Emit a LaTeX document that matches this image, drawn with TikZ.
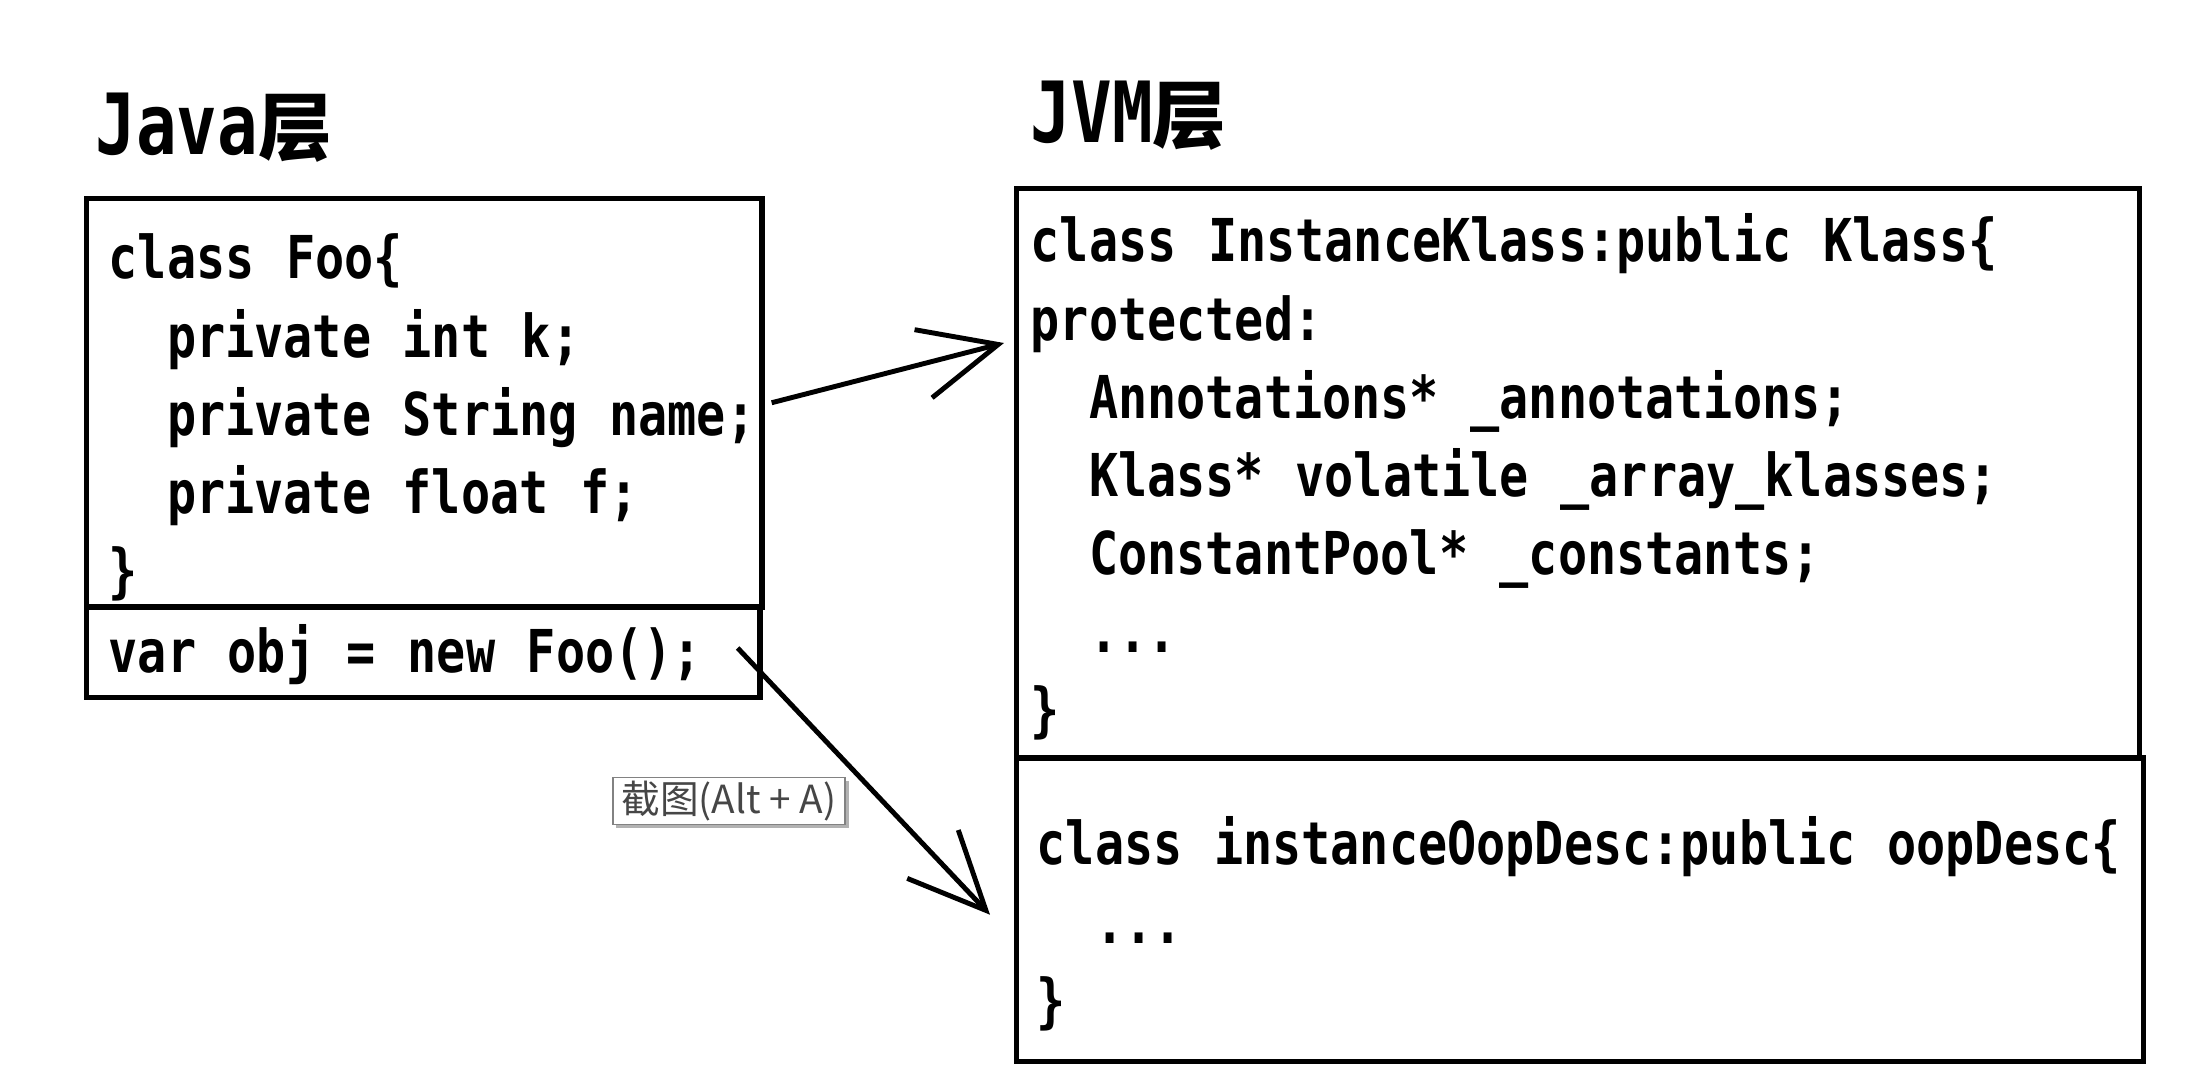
\documentclass[tikz,border=0pt]{standalone}
\usepackage{fontspec}
\usepackage{xcolor}
\usetikzlibrary{arrows.meta,positioning,calc,shadows}
\newfontfamily\codefont[FakeStretch=0.82]{DejaVu Sans Mono}
\newfontfamily\titlefont[FakeStretch=0.80]{DejaVu Sans Mono}
\newfontfamily\cjkfont{Noto Sans CJK SC}
\newcommand{\codeindent}{\phantom{xx}}
\newcommand{\widespace}{\spaceskip=9pt\relax\xspaceskip=9pt\relax}
\definecolor{tipgray}{RGB}{70,70,70}
\definecolor{tipframe}{RGB}{130,130,130}
\tikzset{
  codebox/.style={draw,line width=1.5pt,anchor=north west,inner sep=0pt},
  codetext/.style={anchor=base west,inner sep=0pt,align=left,text width=11cm,
    font=\codefont\bfseries\fontsize{16.8pt}{22.2pt}\selectfont,
    execute at begin node=\widespace},
  layertitle/.style={anchor=base west,inner sep=0pt,font=\bfseries\fontsize{24pt}{28pt}\selectfont},
  refarrow/.style={-{Straight Barb[length=22pt,width=20pt]},line width=1.4pt},
  tipbox/.style={draw=tipframe,fill=white,line width=.5pt,text=tipgray,inner sep=0pt,
    minimum width=2.32cm,minimum height=.47cm,font=\cjkfont\fontsize{11pt}{13pt}\selectfont,
    drop shadow={shadow xshift=1pt,shadow yshift=-1pt,fill=black!30,opacity=1}}
}
\begin{document}
\begin{tikzpicture}[x=0.01cm,y=-0.01cm]
  \useasboundingbox (0,0) rectangle (2193,1092);
  % layer titles
  \node[layertitle] (javatitle) at (95,155) {{\titlefont Java}{\cjkfont\fontsize{21pt}{24pt}\selectfont 层}};
  \node[layertitle] (jvmtitle) at (1030,143) {{\titlefont JVM}{\cjkfont\fontsize{21pt}{24pt}\selectfont 层}};
  % boxes
  \node[codebox,minimum width=6.75cm,minimum height=4.08cm] (foo) at (84,196) {};
  \node[codebox,minimum width=6.73cm,minimum height=0.91cm] (obj) at (84,604) {};
  \node[codebox,minimum width=11.22cm,minimum height=5.69cm] (klass) at (1014,186) {};
  \node[codebox,minimum width=11.26cm,minimum height=3.04cm] (oop) at (1014,755) {};
  % code
  \node[codetext] (footext) at (108,279) {class Foo\{\\
    \codeindent private int k;\\
    \codeindent private String name;\\
    \codeindent private float f;\\
    \}};
  \node[codetext] (objtext) at (108,673) {var obj = new Foo();};
  \node[codetext] (klasstext) at (1030,262) {class InstanceKlass:public Klass\{\\
    protected:\\
    \codeindent Annotations* \_annotations;\\
    \codeindent Klass* volatile \_array\_klasses;\\
    \codeindent ConstantPool* \_constants;\\
    \codeindent ...\\
    \}};
  \node[codetext] (ooptext) at (1036,865) {class instanceOopDesc:public oopDesc\{\\
    \codeindent ...\\
    \}};
  % arrows
  \draw[refarrow] ([shift={(7,0)}]foo.east) -- ([shift={(-10,157)}]klass.north west);
  \draw[refarrow] ([shift={(-25,44)}]obj.north east) -- ([shift={(-24,5)}]oop.west);
  % tooltip
  \node[tipbox] (tip) at (729,801) {截图(Alt + A)};
\end{tikzpicture}
\end{document}
